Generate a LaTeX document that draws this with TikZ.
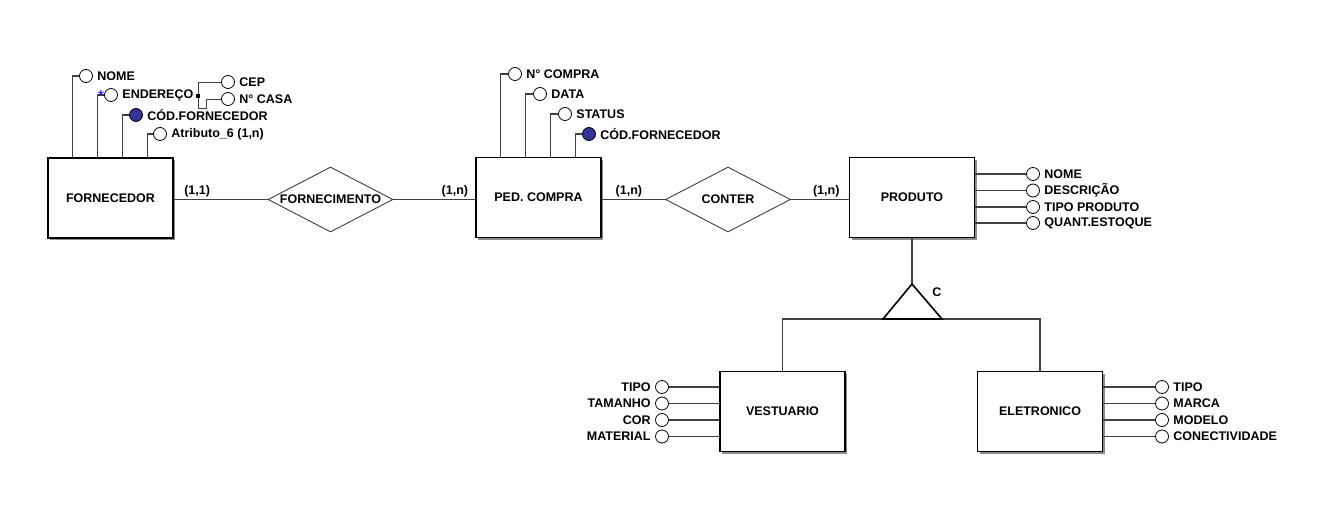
\documentclass[tikz,border=0pt]{standalone}
\usepackage{fontspec}
\setmainfont{Liberation Sans}
\usetikzlibrary{shapes.geometric,shadows,calc}
\definecolor{keyblue}{RGB}{51,51,153}
\definecolor{linegray}{RGB}{64,64,64}
\begin{document}
\begin{tikzpicture}[x=1pt,y=-1pt,
  every node/.style={font=\fontsize{12.5}{14}\selectfont\bfseries},
  entity/.style={draw=black, line width=1.3pt, fill=white, minimum width=125pt, minimum height=80pt, inner sep=0pt,
    drop shadow={shadow xshift=2pt, shadow yshift=-2pt, fill=black!45, opacity=1}},
  rel/.style={diamond, draw=linegray, line width=0.9pt, fill=white, minimum width=125pt, minimum height=65pt, inner sep=0pt},
  attr/.style={circle, draw=black, line width=0.8pt, fill=white, minimum size=13pt, inner sep=0pt},
  keyattr/.style={attr, fill=keyblue},
  conn/.style={draw=linegray, line width=1.1pt},
  card/.style={above, inner sep=2pt},
  atxt/.style={label distance=1pt}
]
\useasboundingbox (0,0) rectangle (1333,532);

% entities and relationships
\node[entity] (forn) at (110.5,198) {FORNECEDOR};
\node[rel] (fornecimento) at (330.5,199.5) {};
\node (fornecimentotxt) at (fornecimento) {FORNECIMENTO};
\node[entity] (ped) at (538.5,197.5) {PED. COMPRA};
\node[rel] (conter) at (728,199.5) {};
\node (contertxt) at (conter) {CONTER};
\node[entity] (prod) at (912,197.5) {PRODUTO};
\node[entity] (vest) at (782.5,411.5) {VESTUARIO};
\node[entity] (elet) at (1040,411.5) {ELETRONICO};

% relationship connectors
\draw[conn] (forn.east |- fornecimento.west) -- node[card,pos=0.25] (c1) {(1,1)} (fornecimento.west);
\draw[conn] (fornecimento.east) -- node[card,pos=0.75] (c2) {(1,n)} (ped.west |- fornecimento.east);
\draw[conn] (ped.east |- conter.west) -- node[card,pos=0.43] (c3) {(1,n)} (conter.west);
\draw[conn] (conter.east) -- node[card,pos=0.61] (c4) {(1,n)} (prod.west |- conter.east);

% FORNECEDOR attributes
\node[attr, label={[atxt]right:NOME}] (fnome) at (86,76) {};
\node[attr, label={[atxt]right:ENDEREÇO}] (fend) at (111,95) {};
\node[keyattr, label={[atxt]right:CÓD.FORNECEDOR}] (fcod) at (136,115) {};
\node[attr, label={[atxt]right:Atributo\_6 (1,n)}] (fat6) at (160,134) {};
\draw[conn] (fnome.west) -| ([xshift=25pt]forn.north west);
\draw[conn] (fend.west) -| ([xshift=50pt]forn.north west);
\draw[conn] (fcod.west) -| ([xshift=75pt]forn.north west);
\draw[conn] (fat6.west) -| ([xshift=100pt]forn.north west);
\node[text=blue, inner sep=0pt, font=\fontsize{16}{16}\selectfont] (ast) at (101,96) {*};

% composite attribute ENDEREÇO
\node[fill=black, inner sep=0pt, minimum size=3.5pt] (sq) at (198,96) {};
\node[attr, label={[atxt]right:CEP}] (cep) at (228,82) {};
\node[attr, label={[atxt]right:N° CASA}] (casa) at (228,99) {};
\coordinate (cb1) at (198,108);
\coordinate (cb2) at (206,108);
\draw[conn, line width=0.9pt] (cep.west) -| (sq.north);
\draw[conn, line width=0.9pt] (sq.south) -- (cb1) -- (cb2) |- (casa.west);

% PED. COMPRA attributes
\node[attr, label={[atxt]right:N° COMPRA}] (pnum) at (515,74) {};
\node[attr, label={[atxt]right:DATA}] (pdata) at (540,94) {};
\node[attr, label={[atxt]right:STATUS}] (pstat) at (565,114) {};
\node[keyattr, label={[atxt]right:CÓD.FORNECEDOR}] (pcod) at (589,134) {};
\draw[conn] (pnum.west) -| ([xshift=25pt]ped.north west);
\draw[conn] (pdata.west) -| ([xshift=50pt]ped.north west);
\draw[conn] (pstat.west) -| ([xshift=75pt]ped.north west);
\draw[conn] (pcod.west) -| ([xshift=100pt]ped.north west);

% PRODUTO attributes
\node[attr, label={[atxt]right:NOME}] (prnome) at (1033,174) {};
\node[attr, label={[atxt]right:DESCRIÇÃO}] (prdesc) at (1033,190.5) {};
\node[attr, label={[atxt]right:TIPO PRODUTO}] (prtipo) at (1033,207) {};
\node[attr, label={[atxt]right:QUANT.ESTOQUE}] (prquant) at (1033,223) {};
\foreach \a in {prnome,prdesc,prtipo,prquant}
  \draw[conn] (\a.west) -- (\a.west -| prod.east);

% generalization
\coordinate (gapex) at (912,284);
\coordinate (gleft) at (883,319);
\coordinate (gright) at (942,319);
\coordinate (gbase) at (912,319);
\draw[conn] (prod.south) -- (gapex);
\draw[conn] (vest.north) |- (gbase) -| (elet.north);
\draw[black, line width=1.6pt, line join=miter] (gapex) -- (gright) -- (gleft) -- cycle;
\node (gc) at (937,292) {C};

% VESTUARIO attributes
\node[attr, label={[atxt]left:TIPO}] (vtipo) at (662,387) {};
\node[attr, label={[atxt]left:TAMANHO}] (vtam) at (662,403.5) {};
\node[attr, label={[atxt]left:COR}] (vcor) at (662,420) {};
\node[attr, label={[atxt]left:MATERIAL}] (vmat) at (662,436.5) {};
\foreach \a in {vtipo,vtam,vcor,vmat}
  \draw[conn] (\a.east) -- (\a.east -| vest.west);

% ELETRONICO attributes
\node[attr, label={[atxt]right:TIPO}] (etipo) at (1162,387) {};
\node[attr, label={[atxt]right:MARCA}] (emarca) at (1162,403.5) {};
\node[attr, label={[atxt]right:MODELO}] (emod) at (1162,420) {};
\node[attr, label={[atxt]right:CONECTIVIDADE}] (econ) at (1162,436.5) {};
\foreach \a in {etipo,emarca,emod,econ}
  \draw[conn] (\a.west) -- (\a.west -| elet.east);
\end{tikzpicture}
\end{document}
